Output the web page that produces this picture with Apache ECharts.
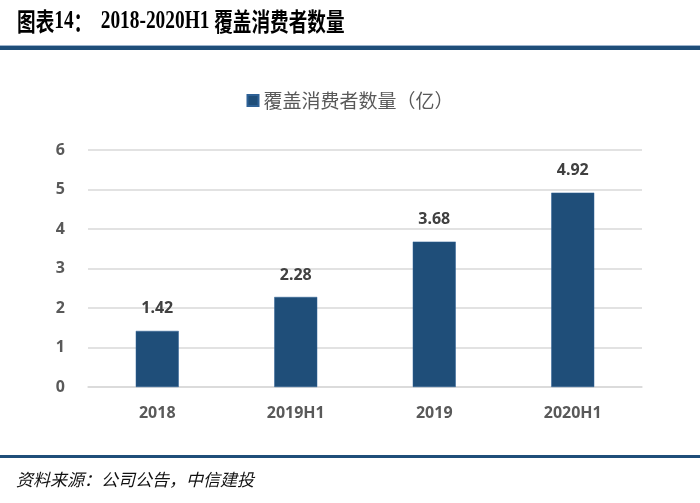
<!DOCTYPE html>
<html><head><meta charset="utf-8">
<script src="https://cdn.jsdelivr.net/npm/echarts@6/dist/echarts.min.js"></script>
<style>html,body{margin:0;padding:0;background:#fff}#c{width:700px;height:503px}</style>
</head><body><div id="c"></div>
<script>
const categories = ['2018', '2019H1', '2019', '2020H1'];
const consumers = [1.42, 2.28, 3.68, 4.92];
const seriesName = '覆盖消费者数量（亿）';
const yTicks = [0, 1, 2, 3, 4, 5, 6];

const chart = echarts.init(document.getElementById('c'));
chart.setOption({
  animation: false,
  backgroundColor: '#fff',
  graphic: [
    { type: 'text', x: 17, y: 8, scaleX: 0.745, style: {
      x: 0, y: 0,
      rich: {
        c: { fontFamily: 'Noto Sans CJK SC', fontWeight: 'bold', fontSize: 25, fill: '#000' },
        d: { fontFamily: 'Liberation Serif', fontWeight: 'bold', fontSize: 26, fill: '#000' }
      },
      text: '{c|图表}{d|14}{c|：  }{d|2018-2020H1 }{c|覆盖消费者数量}'
    }},
    { type: 'rect', shape: { x: 0, y: 45, width: 700, height: 1 }, style: { fill: '#9DB3CC' } },
    { type: 'rect', shape: { x: 0, y: 46, width: 700, height: 4 }, style: { fill: '#1F4E79' } },
    { type: 'rect', shape: { x: 0, y: 455, width: 700, height: 3 }, style: { fill: '#1F4E79' } },
    { type: 'text', left: 16, top: 471, style: {
      text: '资料来源：公司公告，中信建投', fontFamily: 'Noto Sans CJK SC', fontStyle: 'italic',
      fontSize: 17, fill: '#111'
    }}
  ],
  legend: {
    top: 86, left: 'center',
    itemWidth: 11, itemHeight: 11, itemGap: 6,
    textStyle: { fontSize: 19, color: '#595959', fontFamily: 'Noto Sans CJK SC' },
    data: [{ name: seriesName, icon: 'rect' }]
  },
  grid: { left: 88, right: 58, top: 150, bottom: 116 },
  xAxis: {
    type: 'category', data: categories,
    axisLine: { show: true, lineStyle: { color: '#D9D9D9', width: 1.5 } },
    axisTick: { show: false },
    axisLabel: { margin: 18, fontSize: 16, fontWeight: 'bold', color: '#595959', fontFamily: 'Noto Sans' }
  },
  yAxis: {
    type: 'value', min: yTicks[0], max: yTicks[yTicks.length - 1], interval: 1,
    axisLine: { show: false }, axisTick: { show: false },
    splitLine: { lineStyle: { color: '#D9D9D9', width: 1.5 } },
    axisLabel: { margin: 23, fontSize: 16, fontWeight: 'bold', color: '#595959', fontFamily: 'Noto Sans' }
  },
  series: [{
    name: seriesName, type: 'bar', data: consumers, barWidth: 43,
    itemStyle: { color: '#1F4E79', borderColor: '#2E6196', borderWidth: 0.5 },
    label: { show: true, position: 'top', distance: 14, fontSize: 16, fontWeight: 'bold',
      color: '#404040', fontFamily: 'Noto Sans', formatter: p => p.value.toFixed(2) }
  }]
});
</script></body></html>
